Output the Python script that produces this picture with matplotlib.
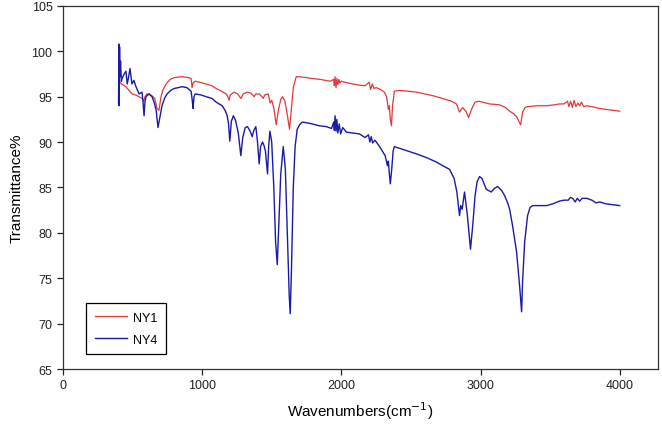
import matplotlib
matplotlib.use("Agg")
import matplotlib.pyplot as plt

# NY1 spectrum
wn_ny1 = [400, 403, 406, 420, 453, 475, 496, 520, 547, 568, 580, 590, 604, 620, 640, 660, 676, 690,
          705, 720, 741, 770, 800, 856, 900, 921, 928, 935, 950, 980, 1029, 1070, 1101, 1140, 1173,
          1185, 1194, 1203, 1230, 1255, 1270, 1280, 1295, 1324, 1350, 1374, 1385, 1410, 1430, 1439,
          1450, 1475, 1489, 1500, 1515, 1532, 1548, 1565, 1578, 1595, 1612, 1628, 1640, 1655, 1676,
          1700, 1750, 1791, 1850, 1921, 1945, 1950, 1955, 1962, 1968, 1975, 1982, 1990, 2000, 2050,
          2115, 2170, 2200, 2210, 2223, 2235, 2250, 2280, 2309, 2325, 2338, 2345, 2352, 2360, 2368,
          2381, 2420, 2480, 2540, 2600, 2660, 2727, 2790, 2827, 2849, 2871, 2895, 2914, 2935, 2960,
          2993, 3014, 3065, 3137, 3180, 3209, 3240, 3259, 3275, 3288, 3302, 3320, 3338, 3400, 3475,
          3530, 3568, 3600, 3625, 3635, 3648, 3660, 3672, 3685, 3700, 3712, 3725, 3740, 3763, 3800,
          3856, 3900, 3950, 4000]
t_ny1 = [94.3, 94.4, 96.7, 96.4, 96.1, 95.7, 95.3, 95.2, 95.0, 94.8, 94.5, 95.0, 95.3, 95.3, 95.1, 94.8, 93.7, 93.5,
         95.0, 95.8, 96.4, 96.9, 97.1, 97.2, 97.1, 97.0, 96.0, 96.5, 96.7, 96.6, 96.4, 96.2, 95.9, 95.6, 95.3,
         95.0, 94.6, 95.2, 95.5, 95.3, 95.0, 94.8, 95.3, 95.5, 95.4, 95.0, 95.3, 95.3, 95.0, 94.8,
         95.2, 95.3, 94.3, 94.6, 93.8, 91.9, 93.5, 94.7, 95.0, 94.5, 93.0, 91.4, 93.5, 96.0, 97.2,
         97.2, 97.1, 97.0, 96.9, 96.7, 96.9, 96.2, 97.2, 96.0, 97.0, 96.3, 96.9, 96.5, 96.7, 96.5,
         96.3, 96.2, 96.6, 95.8, 96.4, 95.9, 96.0, 95.8, 95.5, 95.0, 93.6, 94.0, 92.5, 91.8, 94.0,
         95.6, 95.7, 95.6, 95.5, 95.3, 95.1, 94.8, 94.5, 94.2, 93.3, 93.8, 93.4, 92.7, 93.6, 94.4,
         94.5, 94.4, 94.2, 94.1, 93.8, 93.4, 93.1, 92.8, 92.3, 91.9, 93.3, 93.8, 93.9, 94.0, 94.0,
         94.1, 94.2, 94.2, 94.5, 93.9, 94.5, 93.8, 94.6, 93.9, 94.3, 94.0, 94.4, 93.9, 94.0, 93.9,
         93.7, 93.6, 93.5, 93.4]

# NY4 spectrum
wn_ny4 = [400, 402, 404, 407, 410, 414, 420, 425, 440, 453, 462, 470, 482, 496, 510, 525, 547, 568,
          575, 583, 590, 597, 619, 640, 655, 670, 683, 695, 712, 730, 748, 775, 799, 830, 856, 890,
          921, 930, 935, 942, 950, 990, 1029, 1072, 1101, 1144, 1165, 1180, 1190, 1199, 1210, 1225,
          1240, 1260, 1278, 1292, 1310, 1326, 1345, 1360, 1372, 1386, 1398, 1410, 1420, 1434, 1445,
          1455, 1470, 1478, 1487, 1500, 1515, 1528, 1540, 1550, 1565, 1583, 1598, 1612, 1626, 1633,
          1642, 1655, 1668, 1683, 1700, 1719, 1760, 1791, 1840, 1892, 1930, 1945, 1950, 1955, 1962,
          1968, 1975, 1985, 1995, 2010, 2036, 2080, 2130, 2170, 2195, 2205, 2215, 2225, 2240, 2252,
          2275, 2295, 2315, 2331, 2338, 2345, 2352, 2362, 2372, 2381, 2420, 2480, 2540, 2610, 2683,
          2740, 2777, 2810, 2830, 2849, 2858, 2868, 2885, 2905, 2928, 2945, 2960, 2975, 2993, 3010,
          3041, 3077, 3100, 3122, 3150, 3173, 3195, 3209, 3230, 3259, 3281, 3295, 3302, 3317, 3338,
          3356, 3374, 3420, 3475, 3520, 3568, 3600, 3630, 3645, 3662, 3680, 3695, 3712, 3730, 3763,
          3800, 3830, 3856, 3900, 3950, 4000]
t_ny4 = [94.2, 100.8, 94.0, 100.5, 97.2, 98.9, 96.7, 97.0, 97.5, 97.8, 96.4, 97.0, 98.1, 96.4, 96.8, 96.1, 95.3, 95.5,
         94.5, 92.9, 94.5, 95.0, 95.3, 95.0, 94.4, 93.5, 91.6, 92.6, 94.0, 94.8, 95.3, 95.7, 95.9, 96.0, 96.1, 96.0,
         95.6, 94.5, 93.7, 95.0, 95.3, 95.2, 95.0, 94.8, 94.4, 94.0, 93.5, 92.9, 92.0, 90.1, 92.3, 92.9,
         92.4, 91.0, 88.5, 90.5, 91.6, 91.7, 91.2, 90.6, 91.3, 91.7, 90.0, 87.6, 89.5, 90.0, 89.6,
         89.0, 86.5, 89.5, 91.2, 90.0, 85.0, 79.0, 76.5, 80.5, 86.5, 89.5, 87.0, 80.0, 73.0, 71.1,
         76.0, 85.0, 89.5, 91.4, 91.9, 92.2, 92.1, 92.0, 91.8, 91.7, 91.5, 92.2, 91.3, 92.9, 91.2,
         92.5, 91.0, 92.0, 90.9, 91.6, 91.1, 91.0, 90.9, 90.5, 90.8, 90.0, 90.6, 89.9, 90.2, 90.0,
         89.5, 89.0, 88.5, 87.4, 87.9, 86.5, 85.4, 87.0, 89.0, 89.5, 89.3, 89.0, 88.7, 88.3, 87.8,
         87.3, 87.0, 86.0, 84.5, 81.9, 83.0, 82.6, 84.5, 82.0, 78.2, 81.0, 84.0, 85.6, 86.2, 86.0,
         84.8, 84.5, 84.9, 85.1, 84.7, 84.1, 83.3, 82.6, 80.8, 77.9, 74.1, 71.3, 74.6, 79.0, 81.9,
         82.8, 83.0, 83.0, 83.0, 83.2, 83.5, 83.6, 83.6, 83.9, 83.8, 83.4, 83.8, 83.5, 83.8, 83.8,
         83.6, 83.3, 83.4, 83.2, 83.1, 83.0]

plt.rcParams['font.family'] = ['Liberation Sans', 'DejaVu Sans']

fig = plt.figure(figsize=(6.62, 4.31), dpi=100)
ax = fig.add_axes([0.095, 0.1415, 0.899, 0.8425])

ax.plot(wn_ny1, t_ny1, color='#e2393b', lw=0.9, label='NY1')
ax.plot(wn_ny4, t_ny4, color='#1a1aa6', lw=1.0, label='NY4')

ax.set_xlim(0, 4275)
ax.set_ylim(65, 105)
ax.set_xticks([0, 1000, 2000, 3000, 4000])
ax.set_yticks(range(65, 106, 5))
ax.tick_params(direction='out', length=4, width=0.9, labelsize=9, colors='#222222')
for s in ax.spines.values():
    s.set_linewidth(0.9)
    s.set_color('#333333')

ax.set_xlabel('Wavenumbers(cm$^{-1}$)', fontsize=11, labelpad=6)
ax.set_ylabel('Transmittance%', fontsize=11, labelpad=6)

leg = ax.legend(loc='lower left', bbox_to_anchor=(0.028, 0.023), fontsize=9, fancybox=False,
                edgecolor='black', framealpha=1, handlelength=2.6, handletextpad=0.5,
                borderpad=0.7, labelspacing=0.8)
leg.get_frame().set_linewidth(0.9)

plt.savefig('out.png', dpi=100)
